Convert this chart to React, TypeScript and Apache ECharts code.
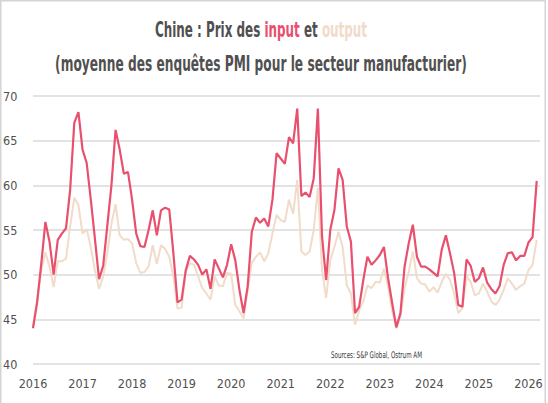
import React, { useEffect, useRef } from "react";
import * as echarts from "echarts";

// Monthly data, Jan 2016 -> Mar 2026
const startYear = 2016;
const inputPrices = [
  44.0, 46.9, 51.2, 55.9, 53.7, 50.0, 53.9, 54.6, 55.2, 59.5, 67.0, 68.2,
  64.0, 62.5, 58.4, 54.0, 49.5, 51.0, 55.5, 60.0, 66.2, 64.0, 61.3, 61.5,
  58.4, 54.6, 53.2, 53.1, 55.0, 57.2, 54.4, 57.2, 57.5, 57.3, 52.4, 46.9,
  47.2, 50.5, 52.1, 51.7, 51.1, 50.0, 50.6, 48.4, 51.7, 50.7, 49.7, 51.1,
  53.4, 51.6, 48.3, 45.7, 48.7, 54.8, 56.4, 55.8, 56.3, 55.4, 58.4, 63.6,
  63.0, 62.4, 65.4, 64.7, 68.6, 58.8, 59.2, 58.7, 60.8, 68.6, 54.3, 49.4,
  55.0, 57.2, 61.9, 60.6, 55.4, 53.7, 45.7, 46.4, 49.4, 52.0, 51.1, 51.6,
  52.2, 53.1, 49.6, 46.8, 44.1, 45.7, 50.9, 53.5, 55.6, 52.0, 50.9, 50.9,
  50.6, 50.2, 49.8, 52.8, 54.4, 52.4, 50.2, 46.6, 46.4, 51.7, 51.0, 49.2,
  49.6, 50.8, 49.1, 48.4, 47.9, 48.7, 51.1, 52.4, 52.5, 51.6, 52.1, 52.1,
  53.6, 54.2, 60.5,
];
const outputPrices = [
  44.2, 47.2, 50.5, 52.5, 50.9, 48.6, 51.5, 51.5, 51.8, 55.4, 58.6, 57.8,
  54.6, 55.1, 53.1, 50.5, 48.4, 49.8, 52.4, 55.7, 57.9, 54.4, 53.9, 54.0,
  53.5, 51.3, 50.2, 50.3, 50.9, 53.3, 51.2, 53.3, 52.9, 52.0, 49.8, 46.2,
  46.3, 50.3, 51.3, 51.1, 49.8, 48.5, 47.9, 47.2, 49.8, 48.8, 48.7, 50.2,
  50.1, 46.6, 45.9, 45.1, 48.3, 51.3, 52.0, 52.5, 51.5, 52.4, 54.6, 56.7,
  56.1, 55.9, 58.4, 56.8, 60.6, 52.6, 52.2, 52.6, 55.0, 59.7, 50.5, 47.4,
  51.6, 53.1, 54.8, 53.1, 48.8, 47.9, 44.4, 46.0, 47.0, 48.8, 48.5, 49.2,
  49.1, 50.7, 48.7, 45.9, 44.0, 45.3, 48.5, 50.3, 52.6, 49.6, 49.0, 48.9,
  48.1, 48.6, 48.0, 49.2, 50.1, 49.4, 47.9, 45.7, 46.2, 49.8, 49.2, 47.7,
  47.9, 49.0, 48.1, 47.0, 46.6, 47.2, 48.3, 49.6, 49.0, 48.3, 48.7, 49.0,
  50.5, 51.1, 53.9,
];
const yTicks = [40, 45, 50, 55, 60, 65, 70];
const titleLine1 = ["Chine : Prix des ", "input", " et ", "output"];
const titleLine2 = "(moyenne des enquêtes PMI pour le secteur manufacturier)";
const sourceText = "Sources: S&P Global, Ostrum AM";

const RED = "#e8506e";
const BEIGE = "#f1dbc9";
const TEXT = "#505050";
const FONT = '"Liberation Sans Narrow", "DejaVu Sans Condensed", "Roboto", sans-serif';

function measure(text: string, font: string): number {
  const c = document.createElement("canvas");
  const ctx = c.getContext("2d");
  if (!ctx) return text.length * 8;
  ctx.font = font;
  return ctx.measureText(text).width;
}

export default function App() {
  const ref = useRef<HTMLDivElement>(null);

  useEffect(() => {
    if (!ref.current) return;
    const chart = echarts.init(ref.current, undefined, { renderer: "svg" });

    const titleFont = `bold 22px ${FONT}`;
    const w1 = measure(titleLine1.join(""), titleFont);
    const w2 = measure(titleLine2, titleFont);
    const s1 = 212 / w1;
    const s2 = 412 / w2;
    const srcFont = `9px ${FONT}`;
    const s3 = 91 / measure(sourceText, srcFont);

    const inputData = inputPrices.map((v, i) => [i, v]);
    const outputData = outputPrices.map((v, i) => [i, v]);

    chart.setOption({
      animation: false,
      backgroundColor: "#ffffff",
      grid: { left: 25, right: 8, top: 96, bottom: 39, containLabel: false },
      xAxis: {
        type: "value",
        min: 0,
        max: 122.8,
        interval: 12,
        axisLine: { show: false },
        axisTick: { show: false },
        splitLine: { show: false },
        axisLabel: {
          color: TEXT,
          fontSize: 12.5,
          fontFamily: FONT,
          margin: 13,
          showMaxLabel: false,
          formatter: (v: number) =>
            Math.abs(v % 12) < 0.001 ? String(startYear + Math.round(v / 12)) : "",
        },
      },
      yAxis: {
        type: "value",
        min: yTicks[0],
        max: yTicks[yTicks.length - 1],
        interval: 5,
        axisLine: { show: false },
        axisTick: { show: false },
        splitLine: { lineStyle: { color: "#dadada", width: 1.5 } },
        axisLabel: {
          color: TEXT,
          fontSize: 12.5,
          fontFamily: FONT,
          margin: 10,
          align: "left",
          padding: [0, 0, 0, -20],
        },
      },
      series: [
        {
          name: "output",
          type: "line",
          data: outputData,
          showSymbol: false,
          symbol: "none",
          lineStyle: { color: BEIGE, width: 2 },
          z: 2,
        },
        {
          name: "input",
          type: "line",
          data: inputData,
          showSymbol: false,
          symbol: "none",
          lineStyle: { color: RED, width: 2.2 },
          z: 3,
        },
      ],
      graphic: [
        {
          type: "rect",
          shape: { x: 0.75, y: 0.75, width: 544.5, height: 410 },
          style: { fill: "none", stroke: "#d4d4d4", lineWidth: 1.5 },
          silent: true,
        },
        {
          type: "group",
          x: 261,
          y: 29,
          scaleX: s1,
          children: [
            {
              type: "text",
              x: 0,
              y: 0,
              style: {
                text:
                  `{a|${titleLine1[0]}}{b|${titleLine1[1]}}{a|${titleLine1[2]}}{c|${titleLine1[3]}}`,
                align: "center",
                verticalAlign: "middle",
                font: titleFont,
                rich: {
                  a: { fill: TEXT, font: titleFont, fontFamily: FONT, fontSize: 22, fontWeight: "bold" },
                  b: { fill: RED, font: titleFont, fontFamily: FONT, fontSize: 22, fontWeight: "bold" },
                  c: { fill: BEIGE, font: titleFont, fontFamily: FONT, fontSize: 22, fontWeight: "bold" },
                },
              },
            },
          ],
        },
        {
          type: "group",
          x: 261,
          y: 63,
          scaleX: s2,
          children: [
            {
              type: "text",
              x: 0,
              y: 0,
              style: {
                text: titleLine2,
                align: "center",
                verticalAlign: "middle",
                fill: TEXT,
                font: titleFont,
              },
            },
          ],
        },
        {
          type: "group",
          x: 331,
          y: 355,
          scaleX: s3,
          children: [
            {
              type: "text",
              x: 0,
              y: 0,
              style: {
                text: sourceText,
                align: "left",
                verticalAlign: "middle",
                fill: "#333333",
                font: srcFont,
              },
            },
          ],
        },
      ],
    });

    return () => chart.dispose();
  }, []);

  return (
    <div
      ref={ref}
      style={{ position: "fixed", left: 0, top: 0, width: 548, height: 403, background: "#fff" }}
    />
  );
}
